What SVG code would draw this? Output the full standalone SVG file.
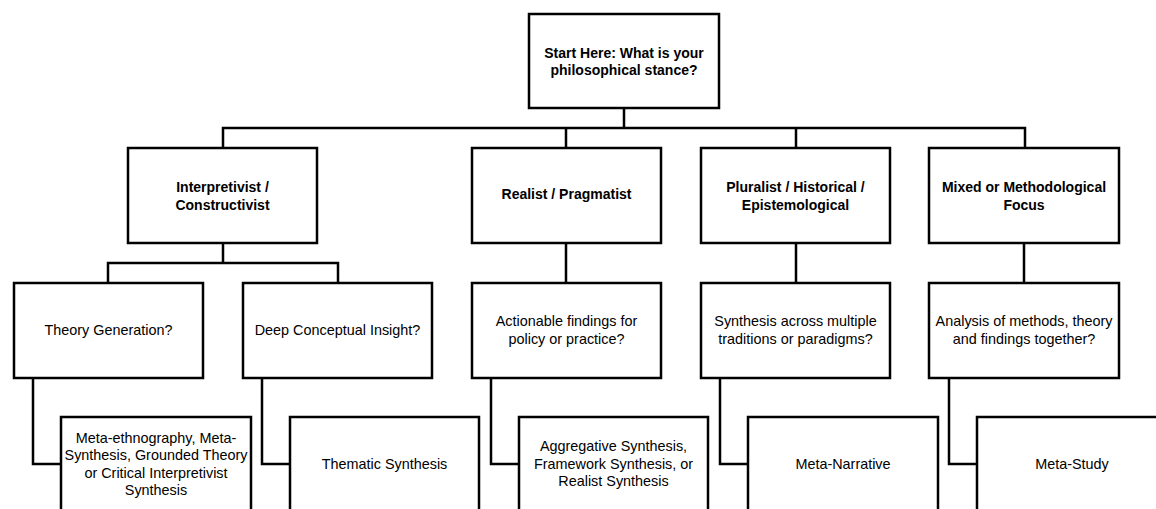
<svg xmlns="http://www.w3.org/2000/svg" width="1156" height="509" viewBox="0 0 1156 509">
<style>
.box{fill:#fff;stroke:#000;stroke-width:2.5}
.c{fill:none;stroke:#000;stroke-width:2.5}
text{font-family:"Liberation Sans",Arial,sans-serif;font-size:14.4px;fill:#000;text-anchor:middle}
.b{font-weight:bold;font-size:14px}
</style>
<rect width="1156" height="509" fill="#fff"/>
<g id="connectors">
<path class="c" d="M624 108V128M223 148V128H1025V148M566 128V148M796 128V148"/>
<path class="c" d="M223 243V263M108 283V263H338V283"/>
<path class="c" d="M566 243V283M796 243V283M1024 243V283"/>
<path class="c" d="M33 378V464H61M262 378V464H290M491 378V464H519M720 378V464H748M949 378V464H977"/>
</g>
<g id="start"><rect class="box" x="529" y="14" width="190" height="94"/>
<text class="b" x="624" y="57.5">Start Here: What is your</text><text class="b" x="624" y="75">philosophical stance?</text></g>
<g id="interpretivist"><rect class="box" x="128" y="148" width="189" height="95"/>
<text class="b" x="222.5" y="192">Interpretivist /</text><text class="b" x="222.5" y="209.5">Constructivist</text></g>
<g id="realist"><rect class="box" x="472" y="148" width="189" height="95"/>
<text class="b" x="566.5" y="199">Realist / Pragmatist</text></g>
<g id="pluralist"><rect class="box" x="701" y="148" width="189" height="95"/>
<text class="b" x="795.5" y="192">Pluralist / Historical /</text><text class="b" x="795.5" y="209.5">Epistemological</text></g>
<g id="mixed"><rect class="box" x="929" y="148" width="190" height="95"/>
<text class="b" x="1024" y="192">Mixed or Methodological</text><text class="b" x="1024" y="209.5">Focus</text></g>
<g id="theory"><rect class="box" x="14" y="283" width="189" height="95"/>
<text x="108.5" y="335">Theory Generation?</text></g>
<g id="deep"><rect class="box" x="243" y="283" width="189" height="95"/>
<text x="337.5" y="335">Deep Conceptual Insight?</text></g>
<g id="actionable"><rect class="box" x="472" y="283" width="189" height="95"/>
<text x="566.5" y="326">Actionable findings for</text><text x="566.5" y="343.5">policy or practice?</text></g>
<g id="across"><rect class="box" x="701" y="283" width="189" height="95"/>
<text x="795.5" y="326">Synthesis across multiple</text><text x="795.5" y="343.5">traditions or paradigms?</text></g>
<g id="analysis"><rect class="box" x="929" y="283" width="190" height="95"/>
<text x="1024" y="326">Analysis of methods, theory</text><text x="1024" y="343.5">and findings together?</text></g>
<g id="metaethnography"><rect class="box" x="61" y="417" width="190" height="96"/>
<text x="156" y="443">Meta-ethnography, Meta-</text><text x="156" y="460.3">Synthesis, Grounded Theory</text><text x="156" y="477.6">or Critical Interpretivist</text><text x="156" y="494.9">Synthesis</text></g>
<g id="thematic"><rect class="box" x="290" y="417" width="189" height="96"/>
<text x="384.5" y="468.5">Thematic Synthesis</text></g>
<g id="aggregative"><rect class="box" x="519" y="417" width="189" height="96"/>
<text x="613.5" y="451">Aggregative Synthesis,</text><text x="613.5" y="468.5">Framework Synthesis, or</text><text x="613.5" y="486">Realist Synthesis</text></g>
<g id="metanarrative"><rect class="box" x="748" y="417" width="190" height="96"/>
<text x="843" y="468.5">Meta-Narrative</text></g>
<g id="metastudy"><rect class="box" x="977" y="417" width="190" height="96"/>
<text x="1072" y="468.5">Meta-Study</text></g>
</svg>
